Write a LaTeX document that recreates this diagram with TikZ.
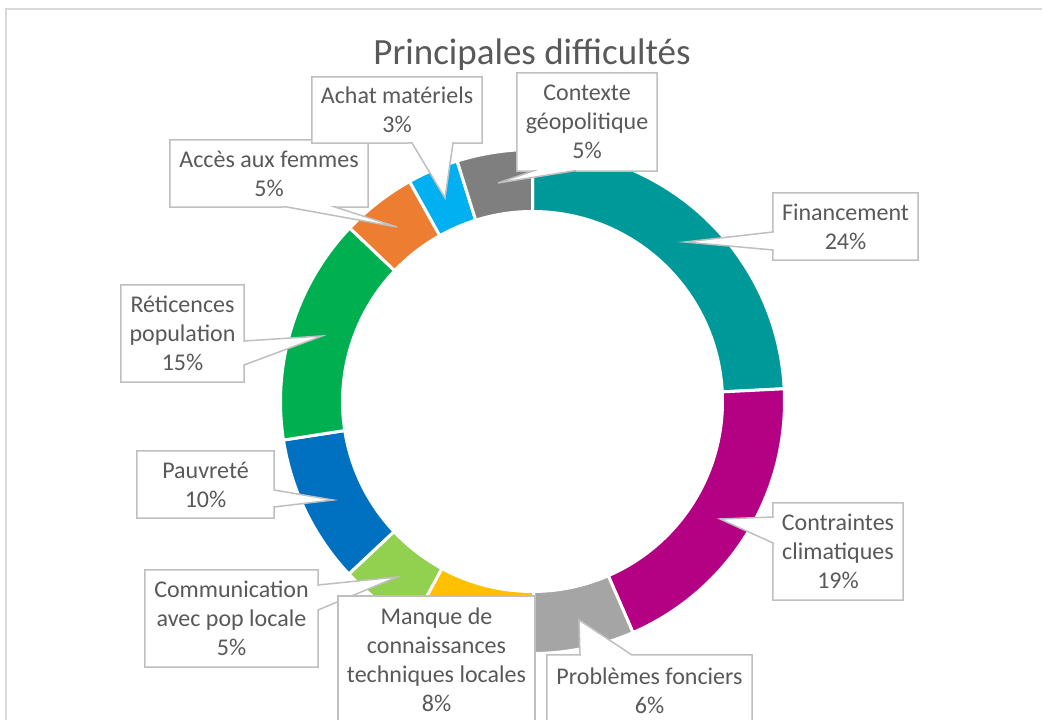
\documentclass[tikz,border=0pt]{standalone}
\usepackage{fontspec}
\setmainfont{Carlito}
\usetikzlibrary{backgrounds}
\definecolor{cteal}{HTML}{009999}
\definecolor{cmag}{HTML}{B40082}
\definecolor{cgrayA}{HTML}{A5A5A5}
\definecolor{cyel}{HTML}{FFC000}
\definecolor{clgreen}{HTML}{92D050}
\definecolor{cblue}{HTML}{0070C0}
\definecolor{cgreen}{HTML}{00B050}
\definecolor{corange}{HTML}{ED7D31}
\definecolor{clblue}{HTML}{00B0F0}
\definecolor{cgrayB}{HTML}{7F7F7F}
\definecolor{txtgray}{HTML}{595959}
\definecolor{boxgray}{HTML}{BFBFBF}
\definecolor{framegray}{HTML}{D9D9D9}
\tikzset{
  seg/.style={draw=white, line width=3pt},
  lbl/.style={inner sep=0pt, align=center, text=txtgray, font=\fontsize{24}{29}\selectfont},
  callout/.style={draw=boxgray, fill=white, line width=1.5pt, line join=miter},
}
\begin{document}
\begin{tikzpicture}[x=1pt,y=1pt]
\useasboundingbox (0,0) rectangle (1042,720);
\begin{pgfonlayer}{background}
  \fill[white] (0,0) rectangle (1042,720);
  \draw[framegray, line width=1.5pt] (6,0) -- (6,711) -- (1042,711);
  \begin{scope}[shift={(532.5,318.5)}]
    \path[seg, fill=cteal]   (90:252)    arc[start angle=90,    end angle=2.9,    radius=252] -- (2.9:190)    arc[start angle=2.9,    end angle=90,     radius=190] -- cycle;
    \path[seg, fill=cmag]    (2.9:252)   arc[start angle=2.9,   end angle=-66.5,  radius=252] -- (-66.5:190)  arc[start angle=-66.5,  end angle=2.9,    radius=190] -- cycle;
    \path[seg, fill=cgrayA]  (-66.5:252) arc[start angle=-66.5, end angle=-89.7,  radius=252] -- (-89.7:190)  arc[start angle=-89.7,  end angle=-66.5,  radius=190] -- cycle;
    \path[seg, fill=cyel]    (-89.7:252) arc[start angle=-89.7, end angle=-118.5, radius=252] -- (-118.5:190) arc[start angle=-118.5, end angle=-89.7,  radius=190] -- cycle;
    \path[seg, fill=clgreen] (-118.5:252) arc[start angle=-118.5, end angle=-136.8, radius=252] -- (-136.8:190) arc[start angle=-136.8, end angle=-118.5, radius=190] -- cycle;
    \path[seg, fill=cblue]   (-136.8:252) arc[start angle=-136.8, end angle=-171.2, radius=252] -- (-171.2:190) arc[start angle=-171.2, end angle=-136.8, radius=190] -- cycle;
    \path[seg, fill=cgreen]  (-171.2:252) arc[start angle=-171.2, end angle=-223.5, radius=252] -- (-223.5:190) arc[start angle=-223.5, end angle=-171.2, radius=190] -- cycle;
    \path[seg, fill=corange] (-223.5:252) arc[start angle=-223.5, end angle=-240.8, radius=252] -- (-240.8:190) arc[start angle=-240.8, end angle=-223.5, radius=190] -- cycle;
    \path[seg, fill=clblue]  (-240.8:252) arc[start angle=-240.8, end angle=-252.6, radius=252] -- (-252.6:190) arc[start angle=-252.6, end angle=-240.8, radius=190] -- cycle;
    \path[seg, fill=cgrayB]  (-252.6:252) arc[start angle=-252.6, end angle=-270,   radius=252] -- (-270:190)   arc[start angle=-270,   end angle=-252.6, radius=190] -- cycle;
  \end{scope}
\end{pgfonlayer}

% title
\node[anchor=base, text=txtgray, font=\fontsize{37}{44}\selectfont] (title) at (532,655) {Principales difficultés};

% labels
\node[lbl, minimum width=145pt, minimum height=67pt] (fin) at (845.5,493.5) {Financement\\24\%};
\node[lbl, minimum width=130pt, minimum height=97pt] (con) at (838,168.5) {Contraintes\\climatiques\\19\%};
\node[lbl, minimum width=205pt, minimum height=71pt] (fon) at (649.5,29.5) {Problèmes fonciers\\6\%};
\node[lbl, minimum width=197pt, minimum height=128pt] (man) at (436.5,60) {Manque de\\connaissances\\techniques locales\\8\%};
\node[lbl, minimum width=173pt, minimum height=97pt] (com) at (231.5,101.5) {Communication\\avec pop locale\\5\%};
\node[lbl, minimum width=137pt, minimum height=67pt] (pau) at (205.5,235.5) {Pauvreté\\10\%};
\node[lbl, minimum width=123pt, minimum height=97pt] (ret) at (182.5,386.5) {Réticences\\population\\15\%};
\node[lbl, minimum width=198pt, minimum height=67pt] (acc) at (269,546.5) {Accès aux femmes\\5\%};
\node[lbl, minimum width=170pt, minimum height=66pt] (ach) at (397,610) {Achat matériels\\3\%};
\node[lbl, minimum width=140pt, minimum height=98pt] (ctx) at (587,598) {Contexte\\géopolitique\\5\%};

% pointer tips
\coordinate (fintip) at (685,478);
\coordinate (contip) at (720,201);
\coordinate (fontip) at (579,100);
\coordinate (comtip) at (397,143);
\coordinate (pautip) at (333,220);
\coordinate (rettip) at (322,384);
\coordinate (acctip) at (397,493);
\coordinate (achtip) at (445,522);
\coordinate (ctxtip) at (498,537);

\begin{pgfonlayer}{background}
\begin{scope}
  \clip (0,0) rectangle (1042,720);
  \path[callout] (fin.north west) -- (fin.north east) -- (fin.south east) -- (fin.south west) -- (773,470) -- (fintip) -- (773,488) -- cycle;
  \path[callout] (con.north west) -- (con.north east) -- (con.south east) -- (con.south west) -- (773,177) -- (contip) -- (773,203) -- cycle;
  \path[callout] (fon.north west) -- (580,65) -- (fontip) -- (632,65) -- (fon.north east) -- (fon.south east) -- (fon.south west) -- cycle;
  \path[callout] (com.north west) -- (com.north east) -- (318,135) -- (comtip) -- (318,110) -- (com.south east) -- (com.south west) -- cycle;
  \path[callout] (man.north west) -- (man.north east) -- (man.south east) -- (man.south west) -- cycle;
  \path[callout] (pau.north west) -- (pau.north east) -- (274,230) -- (pautip) -- (274,213) -- (pau.south east) -- (pau.south west) -- cycle;
  \path[callout] (ret.north west) -- (ret.north east) -- (244,379) -- (rettip) -- (244,355) -- (ret.south east) -- (ret.south west) -- cycle;
  \path[callout] (acc.north west) -- (acc.north east) -- (acc.south east) -- (335,513) -- (acctip) -- (287,513) -- (acc.south west) -- cycle;
  \path[callout] (ach.north west) -- (ach.north east) -- (ach.south east) -- (453,577) -- (achtip) -- (412,577) -- (ach.south west) -- cycle;
  \path[callout] (ctx.north west) -- (ctx.north east) -- (ctx.south east) -- (573,549) -- (ctxtip) -- (533,549) -- (ctx.south west) -- cycle;
\end{scope}
\end{pgfonlayer}
\end{tikzpicture}
\end{document}
